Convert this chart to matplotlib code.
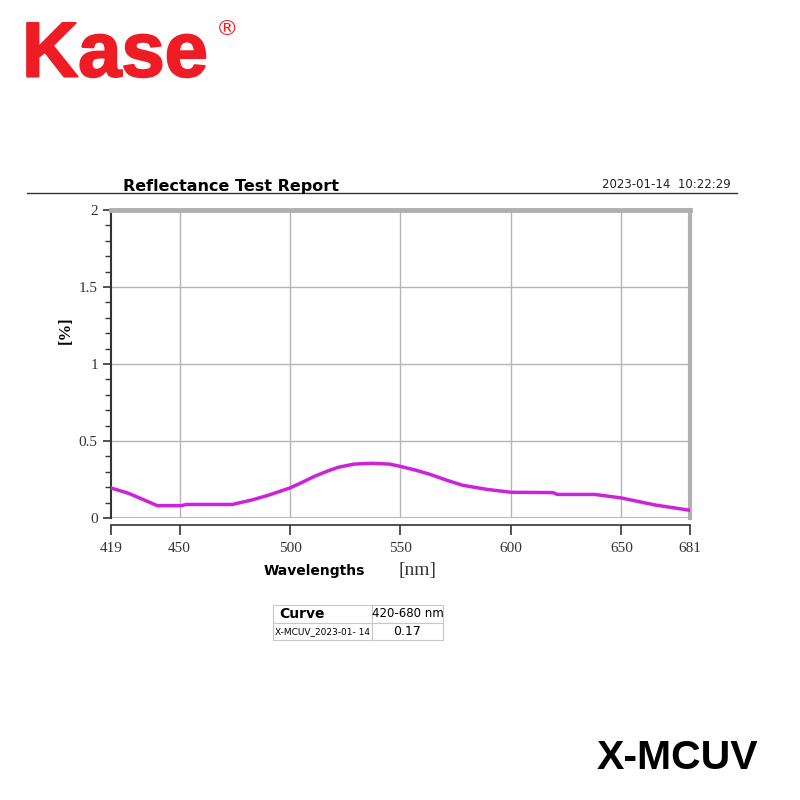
import matplotlib
matplotlib.use("Agg")
from matplotlib import pyplot as plt
from matplotlib.ticker import MultipleLocator
import matplotlib.patheffects as pe

# reflectance curve
wavelength = [419, 427, 440, 451, 453, 474, 483, 490, 500, 506, 511, 517, 522, 529, 537,
              545, 550, 557, 563, 571, 578, 589, 600, 619, 621, 638, 650, 665, 681]
reflectance = [0.195, 0.16, 0.08, 0.08, 0.088, 0.088, 0.118, 0.147, 0.195, 0.235, 0.27,
               0.305, 0.33, 0.35, 0.355, 0.35, 0.335, 0.31, 0.285, 0.245, 0.213, 0.186,
               0.167, 0.165, 0.153, 0.153, 0.13, 0.085, 0.05]
x_ticks = [419, 450, 500, 550, 600, 650, 681]
y_ticks = [0, 0.5, 1, 1.5, 2]
y_tick_labels = ["0", "0.5", "1", "1.5", "2"]
table_rows = [["Curve", "420-680 nm"], ["X-MCUV_2023-01- 14", "0.17"]]

W = H = 800.0
fig = plt.figure(figsize=(8, 8), dpi=100)

def fx(px):
    return px / W

def fy(py):
    return 1 - py / H

# logo and headers
fig.text(fx(22), fy(56), "Kase", color="#ee1c24", fontsize=56, fontweight="bold",
         family="Liberation Sans", va="center", ha="left",
         path_effects=[pe.withStroke(linewidth=1.5, foreground="#ee1c24")])
fig.text(fx(227), fy(29), "®", color="#ee1c24", fontsize=16, va="center", ha="center",
         family="DejaVu Sans")
fig.add_artist(plt.Line2D([fx(27), fx(737)], [fy(193), fy(193)], color="#333333", lw=1))
fig.text(fx(123), fy(186), "Reflectance Test Report", fontsize=11.5, fontweight="bold",
         family="DejaVu Sans", va="center", ha="left")
fig.text(fx(731), fy(185), "2023-01-14  10:22:29", fontsize=8.5, family="DejaVu Sans",
         va="center", ha="right", color="#222222")
fig.text(fx(758), fy(758), "X-MCUV", fontsize=29.5, fontweight="bold", family="Liberation Sans",
         va="center", ha="right")

# main chart
ax = fig.add_axes([fx(111), fy(518), fx(690) - fx(111), fy(210) - fy(518)])
ax.plot(wavelength, reflectance, color="#cc22dd", lw=2.5, zorder=3)
ax.set_xlim(419, 681)
ax.set_ylim(0, 2)
for v in [450, 500, 550, 600, 650]:
    ax.axvline(v, color="#b5b5b5", lw=1, zorder=1)
for v in [0.5, 1, 1.5]:
    ax.axhline(v, color="#b5b5b5", lw=1, zorder=1)
ax.axhline(0, color="#b0b0b0", lw=2, zorder=2)

ax.spines["top"].set_color("#b0b0b0")
ax.spines["top"].set_linewidth(3.5)
ax.spines["right"].set_color("#b0b0b0")
ax.spines["right"].set_linewidth(3)
ax.spines["left"].set_color("#333333")
ax.spines["left"].set_linewidth(1.5)
ax.spines["bottom"].set_position(("outward", 5))
ax.spines["bottom"].set_color("#333333")
ax.spines["bottom"].set_linewidth(1.2)

ax.set_xticks(x_ticks)
ax.set_xticklabels([str(t) for t in x_ticks])
ax.set_yticks(y_ticks)
ax.set_yticklabels(y_tick_labels)
ax.yaxis.set_minor_locator(MultipleLocator(0.1))
ax.tick_params(axis="x", direction="out", length=7, width=1.2, color="#333333", pad=5)
ax.tick_params(axis="y", which="major", direction="out", length=6, width=1.2, color="#333333")
ax.tick_params(axis="y", which="minor", direction="out", length=4, width=1, color="#333333")
for lab in ax.get_xticklabels() + ax.get_yticklabels():
    lab.set_family("Liberation Serif")
    lab.set_fontsize(11)
    lab.set_color("#333333")

fig.text(fx(66), fy(330), "[%]", rotation=90, fontsize=12, fontweight="bold",
         family="Liberation Serif", va="center", ha="center")
fig.text(fx(264), fy(571), "Wavelengths", fontsize=10, fontweight="bold",
         family="DejaVu Sans", va="center", ha="left")
fig.text(fx(417), fy(570), "[nm]", fontsize=14, family="Liberation Serif",
         va="center", ha="center", color="#333333")

# summary table
tax = fig.add_axes([fx(273), fy(640), fx(443) - fx(273), fy(605) - fy(640)])
tax.axis("off")
tbl = tax.table(cellText=table_rows, bbox=[0, 0, 1, 1], colWidths=[99, 71], cellLoc="center")
tbl.auto_set_font_size(False)
for (r, c), cell in tbl.get_celld().items():
    cell.set_edgecolor("#c8c8c8")
    cell.set_linewidth(0.8)
    txt = cell.get_text()
    txt.set_family("DejaVu Sans")
    if r == 0 and c == 0:
        txt.set_fontweight("bold")
        txt.set_fontsize(10)
        cell.set_text_props(ha="left")
        cell.PAD = 0.06
    elif r == 0:
        txt.set_fontsize(8.5)
    elif c == 0:
        txt.set_fontsize(6.5)
    else:
        txt.set_fontsize(9)

fig.savefig("out.png", dpi=100, facecolor="white")
